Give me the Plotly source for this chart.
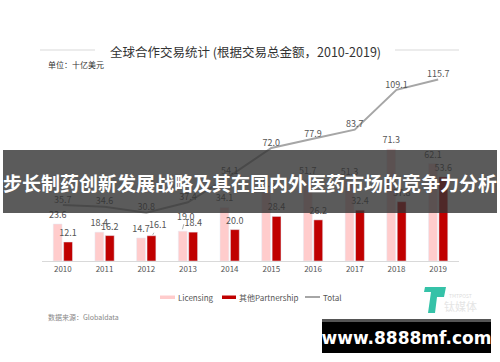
import plotly.graph_objects as go

years = ["2010", "2011", "2012", "2013", "2014", "2015", "2016", "2017", "2018", "2019"]
licensing = [23.6, 18.4, 14.7, 19.0, 34.1, 43.6, 51.7, 51.3, 71.3, 62.1]
partnership = [12.1, 16.2, 16.1, 18.4, 20.0, 28.4, 26.2, 32.4, 37.8, 53.6]
total = [35.7, 34.6, 30.8, 37.4, 54.1, 72.0, 77.9, 83.7, 109.1, 115.7]

# labels drawn with a leader line instead of directly on the bar
lic_callout = {"2013"}
par_callout = {"2012"}

W, H = 500, 362
L, R, T, B = 42, 459, 57, 261
YMAX = 130

def px(x):
    return (x - L) / (R - L)

def py(y):
    return (B - y) / (B - T)

FONT = "Noto Sans CJK SC, Liberation Sans, Arial, sans-serif"
LICENSING_C = "#FFCCCC"
PARTNER_C = "#C00000"
TOTAL_C = "#A6A6A6"
LABEL_C = "#555555"

fig = go.Figure()
fig.add_trace(go.Bar(
    x=years, y=licensing, name="Licensing", marker_color=LICENSING_C,
    text=["" if yr in lic_callout else f"{v:.1f}" for yr, v in zip(years, licensing)],
    textposition="outside",
    textfont=dict(size=9, color=LABEL_C), constraintext="none", cliponaxis=False,
))
fig.add_trace(go.Bar(
    x=years, y=partnership, name="其他Partnership", marker_color=PARTNER_C,
    text=["" if yr in par_callout else f"{v:.1f}" for yr, v in zip(years, partnership)],
    textposition="outside",
    textfont=dict(size=9, color=LABEL_C), constraintext="none", cliponaxis=False,
))
fig.add_trace(go.Scatter(
    x=years, y=total, name="Total", mode="lines+text",
    line=dict(color=TOTAL_C, width=2),
    text=[f"{v:.1f}" for v in total], textposition="top center",
    textfont=dict(size=9, color=LABEL_C), cliponaxis=False,
))

shapes = [
    # title side lines
    dict(type="line", xref="paper", yref="paper", x0=px(40), x1=px(95), y0=py(50), y1=py(50),
         line=dict(color="#D9D9D9", width=1)),
    dict(type="line", xref="paper", yref="paper", x0=px(395), x1=px(459), y0=py(50), y1=py(50),
         line=dict(color="#D9D9D9", width=1)),
    # legend swatches
    dict(type="rect", xref="paper", yref="paper", x0=px(160), x1=px(175), y0=py(299), y1=py(295.5),
         fillcolor=LICENSING_C, line=dict(width=0)),
    dict(type="rect", xref="paper", yref="paper", x0=px(222), x1=px(236), y0=py(299), y1=py(295.5),
         fillcolor=PARTNER_C, line=dict(width=0)),
    dict(type="line", xref="paper", yref="paper", x0=px(305), x1=px(320), y0=py(297), y1=py(297),
         line=dict(color=TOTAL_C, width=2)),
    # banner
    dict(type="rect", xref="paper", yref="paper", x0=px(3), x1=px(497), y0=py(213), y1=py(150),
         fillcolor="rgba(50,50,50,0.8)", line=dict(width=0), layer="above"),
    # logo (teal T/P)
    dict(type="path", xref="paper", yref="paper",
         path=f"M {px(425)},{py(287)} L {px(446)},{py(287)} L {px(444)},{py(297)} L {px(437)},{py(297)} "
              f"L {px(435)},{py(313)} L {px(428)},{py(313)} L {px(431)},{py(292)} L {px(424)},{py(292)} Z",
         fillcolor="#35C2A8", line=dict(width=0), layer="above"),
]

def ann(text, x, y, size, color, xanchor="center", family=FONT, **kw):
    return dict(text=text, xref="paper", yref="paper", x=px(x), y=py(y), xanchor=xanchor,
                yanchor="middle", showarrow=False, font=dict(size=size, color=color, family=family), **kw)

annotations = [
    ann("全球合作交易统计 (根据交易总金额，2010-2019)", 245, 51, 12.5, "#333333"),
    ann("单位：十亿美元", 46, 64, 8, "#333333", xanchor="left"),
    ann("数据来源：Globaldata", 46, 317, 7, "#888888", xanchor="left"),
    ann("Licensing", 176, 297, 8, LABEL_C, xanchor="left"),
    ann("其他Partnership", 237, 297, 8, LABEL_C, xanchor="left"),
    ann("Total", 321, 297, 8, LABEL_C, xanchor="left"),
    ann("<b>步长制药创新发展战略及其在国内外医药市场的竞争力分析</b>", 250, 182, 19, "#FFFFFF"),
    ann("TMTPOST", 460, 295, 5, "#DDDDDD"),
    ann("钛媒体", 460, 306, 11, "#E5E5E5"),
    # watermark box: gray top strip + black box with white text
    dict(text="", xref="paper", yref="paper", x=px(406.5), y=py(320.5), xanchor="center",
         yanchor="middle", showarrow=False, width=169, height=3, bgcolor="#555555",
         borderpad=0, borderwidth=0),
    dict(text="<b>www.8888mf.com</b>", xref="paper", yref="paper",
         x=px(406.5), y=py(337.5), xanchor="center", yanchor="middle", showarrow=False,
         width=169, height=31, bgcolor="#000000", borderpad=0, borderwidth=0, valign="middle",
         font=dict(size=17, color="#FFFFFF", family="DejaVu Sans, sans-serif")),
]

# callout labels with leader lines (category axis -> use category index)
for i, (yr, v) in enumerate(zip(years, licensing)):
    if yr in lic_callout:
        annotations.append(dict(
            x=i, y=v, xref="x", yref="y", xshift=-6, text=f"{v:.1f}", showarrow=True,
            arrowhead=0, arrowwidth=0.8, arrowcolor="#999999", ax=4, ay=-15, standoff=2,
            font=dict(size=9, color=LABEL_C, family=FONT)))
for i, (yr, v) in enumerate(zip(years, partnership)):
    if yr in par_callout:
        annotations.append(dict(
            x=i, y=v, xref="x", yref="y", xshift=6, text=f"{v:.1f}", showarrow=True,
            arrowhead=0, arrowwidth=0.8, arrowcolor="#999999", ax=6, ay=-11, standoff=1,
            font=dict(size=9, color=LABEL_C, family=FONT)))

fig.update_layout(
    width=W, height=H,
    margin=dict(l=L, r=W - R, t=T, b=H - B),
    paper_bgcolor="white", plot_bgcolor="white",
    barmode="group", bargap=0.5, bargroupgap=0.15,
    font=dict(family=FONT, color=LABEL_C),
    showlegend=False,
    xaxis=dict(type="category", range=[-0.5, 9.5], showgrid=False, showline=True,
               linecolor="#D9D9D9", linewidth=1, ticks="", tickfont=dict(size=8, color=LABEL_C)),
    yaxis=dict(range=[0, YMAX], showgrid=False, showticklabels=False, zeroline=False, showline=False),
    shapes=shapes, annotations=annotations,
)

fig.write_html(
    "out.html",
    config={"displayModeBar": False},
    post_script="document.body.style.margin='0';document.body.style.overflow='hidden';",
)
